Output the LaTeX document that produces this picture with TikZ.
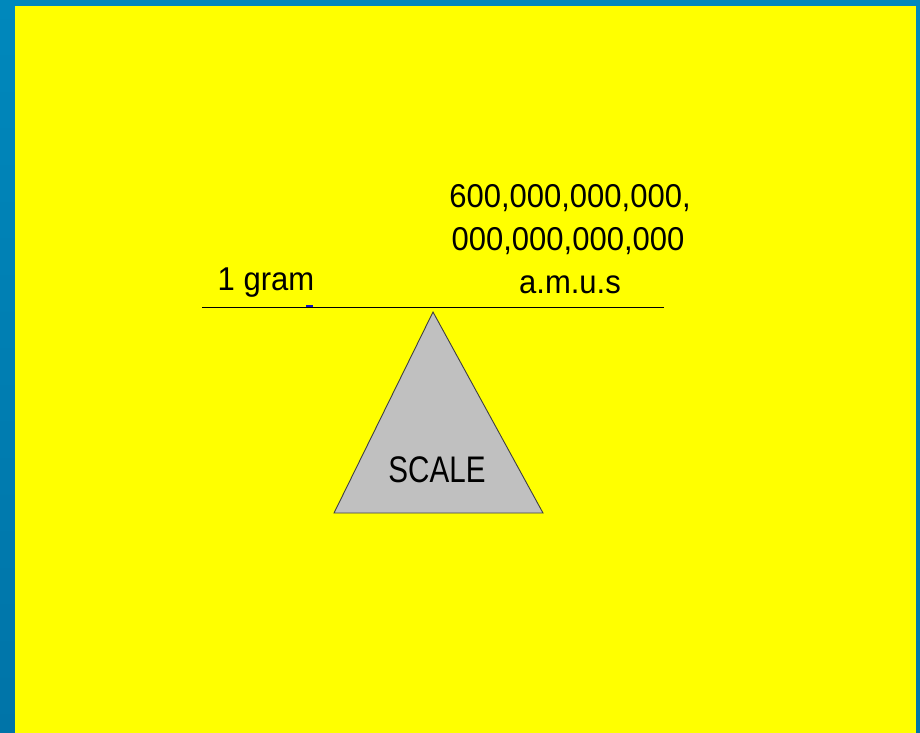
\documentclass[tikz,border=0pt]{standalone}
\usepackage{fontspec}
\setmainfont{Liberation Sans}
\usetikzlibrary{positioning}
\definecolor{frame}{HTML}{0088BC}
\definecolor{framedark}{HTML}{0074A8}
\definecolor{page}{HTML}{FFFF00}
\definecolor{pan}{HTML}{C0C0C0}
\definecolor{edge}{HTML}{404040}
\definecolor{tick}{HTML}{1010C0}

\tikzset{
 label/.style={font=\fontsize{33}{43}\selectfont,text=black,inner sep=0pt,anchor=base,xscale=0.94},
 scalebox/.style={font=\fontsize{37}{40}\selectfont,text=black,inner sep=0pt,anchor=base,xscale=0.8}
}

\begin{document}
\begin{tikzpicture}[x=1pt,y=-1pt]
\useasboundingbox (0,0) rectangle (920,732);
% frame and page
\shade[top color=frame,bottom color=framedark] (0,0) rectangle (920,732);
\fill[page] (15,6) rectangle (916,740);
% beam
\coordinate (beamL) at (202,307);
\coordinate (beamR) at (664,307);
\draw[black,line width=1pt] (beamL) -- (beamR);
\draw[tick,line width=1.6pt] (306,306) -- (313,306);
% pivot
\draw[edge,fill=pan,line width=0.9pt] (433,312) -- (543,513) -- (334,513) -- cycle;
\node[scalebox] (scale) at (437,482) {SCALE};
% loads
\node[label] (gram) at (266,290) {1 gram};
\node[label] (amusA) at (570,207) {600,000,000,000,};
\node[label] (amusB) at (568,250) {000,000,000,000};
\node[label] (amusC) at (570,293) {a.m.u.s};
\end{tikzpicture}
\end{document}
